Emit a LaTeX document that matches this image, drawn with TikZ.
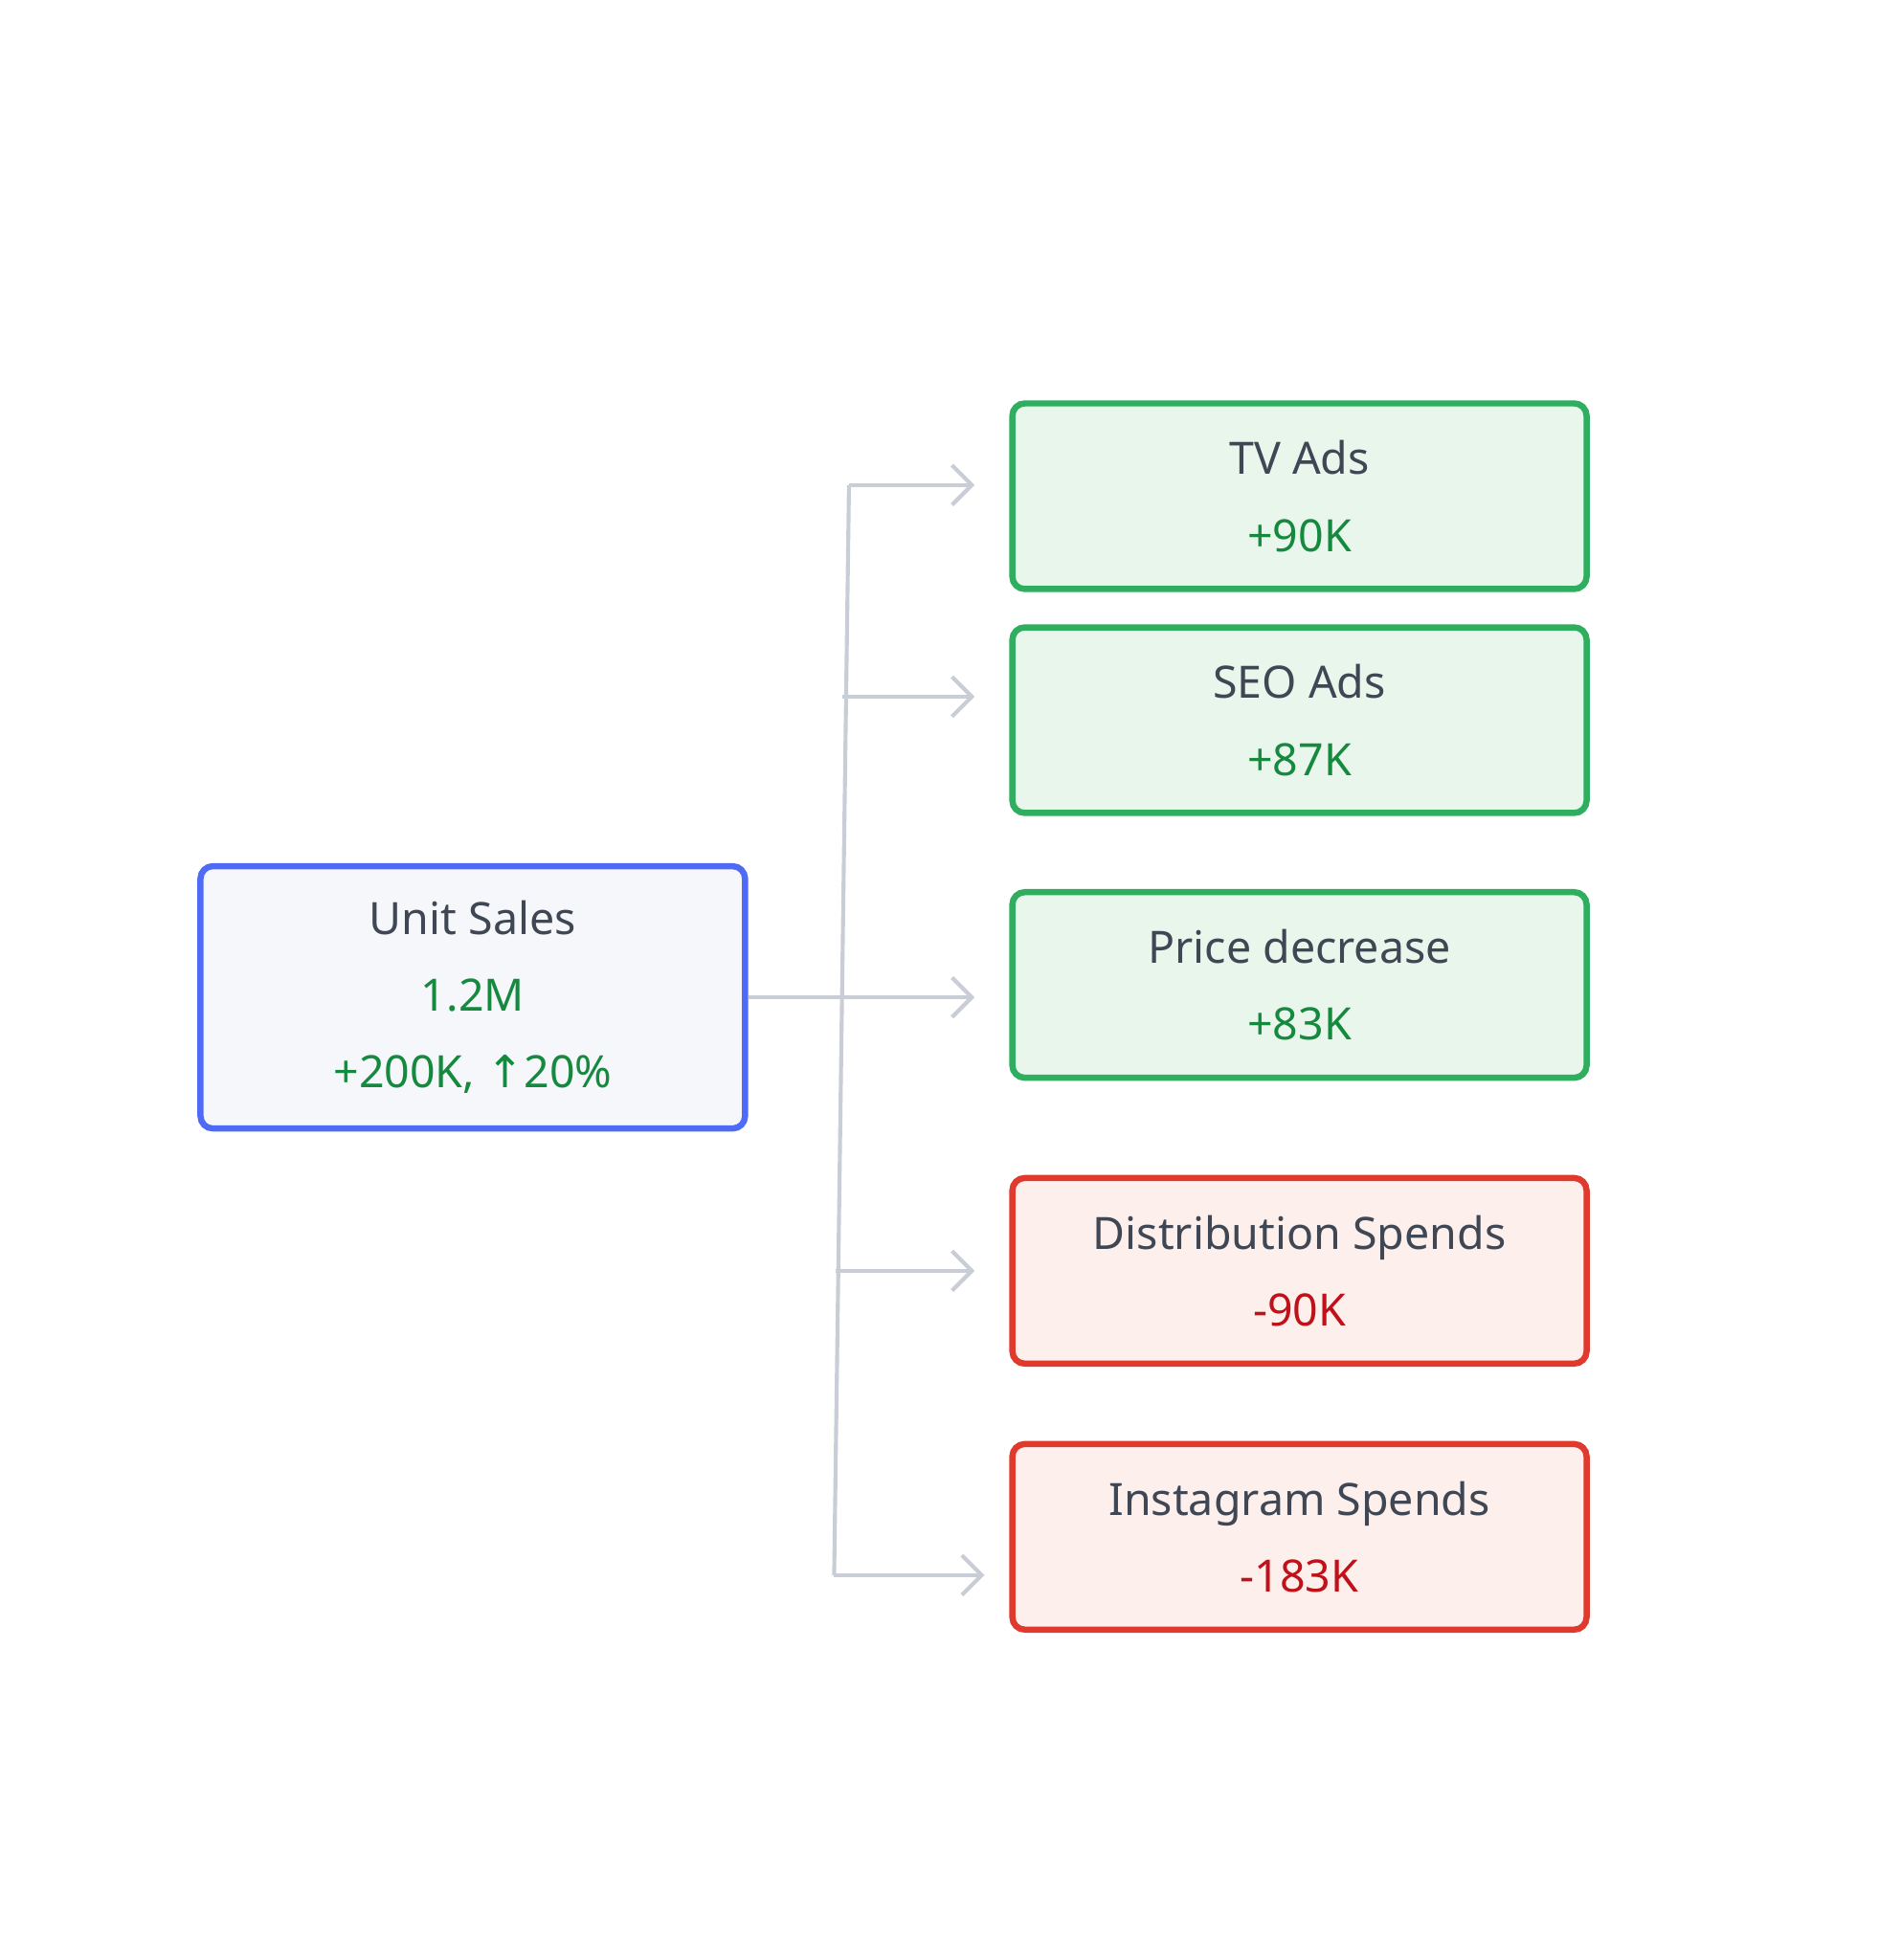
\documentclass[tikz,border=0pt]{standalone}
\usepackage{fontspec}
\setmainfont{Noto Sans}
\newfontfamily\arrowfont{DejaVu Sans}
\usetikzlibrary{arrows.meta}
\definecolor{txt}{HTML}{3F4654}
\definecolor{gtxt}{HTML}{15893E}
\definecolor{rtxt}{HTML}{C0101A}
\definecolor{bline}{HTML}{4F6BF5}
\definecolor{bfill}{HTML}{F5F7FA}
\definecolor{gline}{HTML}{2EAE5E}
\definecolor{gfill}{HTML}{E8F6EC}
\definecolor{rline}{HTML}{E03A2E}
\definecolor{rfill}{HTML}{FDEFEB}
\definecolor{conn}{HTML}{C8CDD6}
\begin{document}
\begin{tikzpicture}[x=0.5pt,y=-0.5pt,
  box/.style={rectangle,rounded corners=5pt,line width=2.5pt,minimum width=232pt,minimum height=75pt,align=center,font=\fontsize{18}{31}\selectfont,text=txt},
  posbox/.style={box,draw=gline,fill=gfill},
  negbox/.style={box,draw=rline,fill=rfill},
  cn/.style={draw=conn,line width=1.6pt},
  ar/.style={cn,shorten >=14pt,-{Straight Barb[length=8pt,width=16pt,line width=1.6pt]}}]
\useasboundingbox (0,0) rectangle (1536,1584);
\node[box,draw=bline,fill=bfill,minimum width=220pt,minimum height=106pt] (us) at (382,806)
  {Unit Sales\\\textcolor{gtxt}{1.2M}\\\textcolor{gtxt}{+200K, {\arrowfont ↑}20\%}};
\node[posbox] (tv) at (1050,401) {TV Ads\\\textcolor{gtxt}{+90K}};
\node[posbox] (seo) at (1050,582) {SEO Ads\\\textcolor{gtxt}{+87K}};
\node[posbox] (pd) at (1050,796) {Price decrease\\\textcolor{gtxt}{+83K}};
\node[negbox] (ds) at (1050,1027) {Distribution Spends\\\textcolor{rtxt}{-90K}};
\node[negbox] (ig) at (1050,1242) {Instagram Spends\\\textcolor{rtxt}{-183K}};
\coordinate (t1) at (686,392);
\coordinate (t2) at (681,563);
\coordinate (t4) at (675,1027);
\coordinate (t5) at (674,1273);
\draw[cn] (t1) -- (t5);
\draw[ar] (t1) -- (tv.west |- t1);
\draw[ar] (t2) -- (seo.west |- t2);
\draw[ar] (us.east) -- (pd.west |- us.east);
\draw[ar] (t4) -- (ds.west |- t4);
\draw[ar,shorten >=10pt] (t5) -- (ig.west |- t5);
\end{tikzpicture}
\end{document}
